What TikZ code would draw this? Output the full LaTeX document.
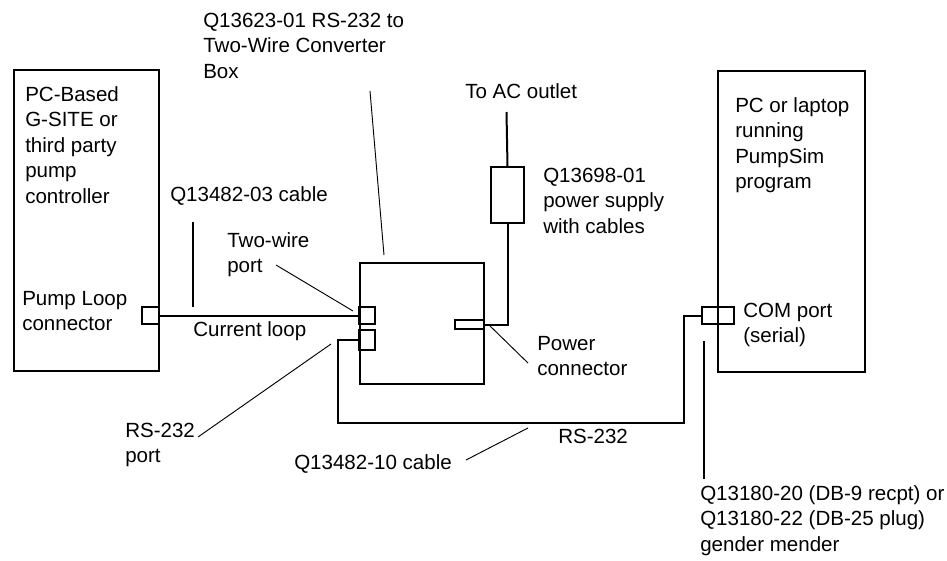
\documentclass[tikz,border=0pt]{standalone}
\usepackage{fontspec}
\setmainfont{Liberation Sans}
\newcommand{\lblfont}{\fontsize{15.4}{19.2}\selectfont}
\begin{document}
\begin{tikzpicture}[x=0.75pt,y=-0.75pt,
    part/.style 2 args={draw, line width=1.5pt, inner sep=0pt, anchor=north west,
        minimum width=#1*0.75pt, minimum height=#2*0.75pt},
    wire/.style={line width=1.5pt},
    lead/.style={line width=0.7pt},
    lbl/.style={anchor=base west, align=left, inner sep=0pt, font=\lblfont}]
\useasboundingbox (0,0) rectangle (947,561);
% units
\node[part={145}{301}] (ctrl) at (13,69) {};
\node[part={124}{121}] (conv) at (359,262) {};
\node[part={147}{301}] (pc) at (717,70) {};
\node[part={33}{56}] (psu) at (490,166) {};
% ports
\node[part={17}{17}] (loopport) at (141,306) {};
\node[part={16}{17}] (twport) at (358,306) {};
\node[part={16}{20}] (rsport) at (358,329) {};
\node[part={29}{9}] (pwrport) at (454,319) {};
\node[part={32}{17}] (mender) at (701,306) {};
% cables
\coordinate (ac) at (506.5,112);
\coordinate (cdl) at (338,423);
\coordinate (cdr) at (684,423);
\draw[wire] (loopport.east) -- (loopport.east -| twport.west);
\draw[wire] (pwrport.east) -| (psu.south);
\draw[wire] (psu.north) -- (ac);
\draw[wire] (rsport.west) -| (cdl) -- (cdr) |- (mender.west);
% labels (base = last line)
\node[lbl] (convtxt) at (203,78.2) {Q13623-01 RS-232 to\\Two-Wire Converter\\Box};
\node[lbl] (ctrltxt) at (25,203.4) {PC-Based\\G-SITE or\\third party\\pump\\controller};
\node[lbl] (cabletxt) at (170,201) {Q13482-03 cable};
\node[lbl] (twtxt) at (227,272.6) {Two-wire\\port};
\node[lbl] (looptxt) at (22,330.6) {Pump Loop\\connector};
\node[lbl] (curtxt) at (193,336) {Current loop};
\node[lbl] (actxt) at (465,98) {To AC outlet};
\node[lbl] (psutxt) at (543,233.2) {Q13698-01\\power supply\\with cables};
\node[lbl] (pwrtxt) at (537,375.6) {Power\\connector};
\node[lbl] (pctxt) at (735,188.8) {PC or laptop\\running\\PumpSim\\program};
\node[lbl] (comtxt) at (743,342.6) {COM port\\(serial)};
\node[lbl] (rstxt) at (125,462.6) {RS-232\\port};
\node[lbl] (cable2txt) at (294,469) {Q13482-10 cable};
\node[lbl] (rscabtxt) at (558,443) {RS-232};
\node[lbl] (mendtxt) at (700,551.2) {Q13180-20 (DB-9 recpt) or\\Q13180-22 (DB-25 plug)\\gender mender};
% leader lines
\coordinate (l1a) at (370,91);   \coordinate (l1b) at (384,255);
\coordinate (l2a) at (193,222);  \coordinate (l2b) at (193,307);
\coordinate (l3a) at (276,265);  \coordinate (l3b) at (353,311);
\coordinate (l4a) at (331,344);  \coordinate (l4b) at (198,437);
\coordinate (l5a) at (489,325);  \coordinate (l5b) at (528,363);
\coordinate (l6a) at (466,460);  \coordinate (l6b) at (528,428);
\coordinate (l7a) at (704,341);  \coordinate (l7b) at (704,479);
\draw[lead] (l1a) -- (l1b);
\draw[wire] (l2a) -- (l2b);
\draw[lead] (l3a) -- (l3b);
\draw[lead] (l4a) -- (l4b);
\draw[lead] (l5a) -- (l5b);
\draw[lead] (l6a) -- (l6b);
\draw[wire] (l7a) -- (l7b);
\end{tikzpicture}
\end{document}
